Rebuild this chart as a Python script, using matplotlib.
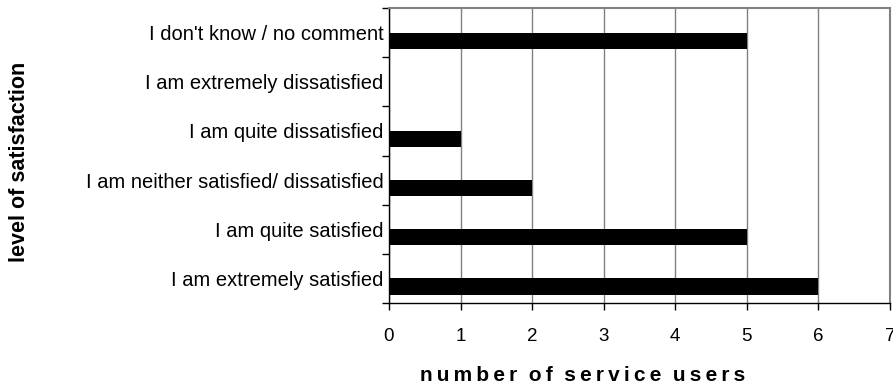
import matplotlib.pyplot as plt
import numpy as np

plt.rcParams['font.family'] = ['Liberation Sans', 'DejaVu Sans']

# satisfaction levels, bottom to top
levels = ['I am extremely satisfied',
          'I am quite satisfied',
          'I am neither satisfied/ dissatisfied',
          'I am quite dissatisfied',
          'I am extremely dissatisfied',
          "I don't know / no comment"]
users = [6, 5, 2, 1, 0, 5]

fig = plt.figure(figsize=(8.93, 3.9), dpi=100)
ax = fig.add_axes([0.4356, 0.223, 0.561, 0.7565])

y = np.arange(len(levels))
ax.barh(y - 0.165, users, height=0.33, color='black', zorder=3)

ax.set_xlim(0, 7)
ax.set_ylim(-0.5, len(levels) - 0.5)
ax.set_xticks(range(8))
ax.tick_params(axis='x', labelsize=13.5, length=5, width=1, direction='out', pad=13)

# category labels sit at the centre, ticks on the boundaries
ax.set_yticks(np.arange(-0.5, len(levels), 1.0))
ax.set_yticklabels([])
ax.set_yticks(y, minor=True)
ax.set_yticklabels(levels, minor=True, fontsize=14.5)
ax.tick_params(axis='y', which='major', length=5, width=1, direction='out')
ax.tick_params(axis='y', which='minor', length=0, pad=4)

ax.grid(axis='x', color='#808080', linewidth=1, zorder=0)
for s in ['top', 'right']:
    ax.spines[s].set_color('#808080')
    ax.spines[s].set_linewidth(1.5)
for s in ['left', 'bottom']:
    ax.spines[s].set_color('black')
    ax.spines[s].set_linewidth(1)

# spaced-out axis title
xlabel = '  '.join('\u2009'.join(w) for w in 'number of service users'.split())
fig.text(0.652, 0.038, xlabel, ha='center', va='center', fontsize=15, fontweight='bold')
fig.text(0.022, 0.585, 'level of satisfaction', rotation=90, ha='center', va='center',
         fontsize=15.5, fontweight='bold')

fig.savefig('out.png', dpi=100)
